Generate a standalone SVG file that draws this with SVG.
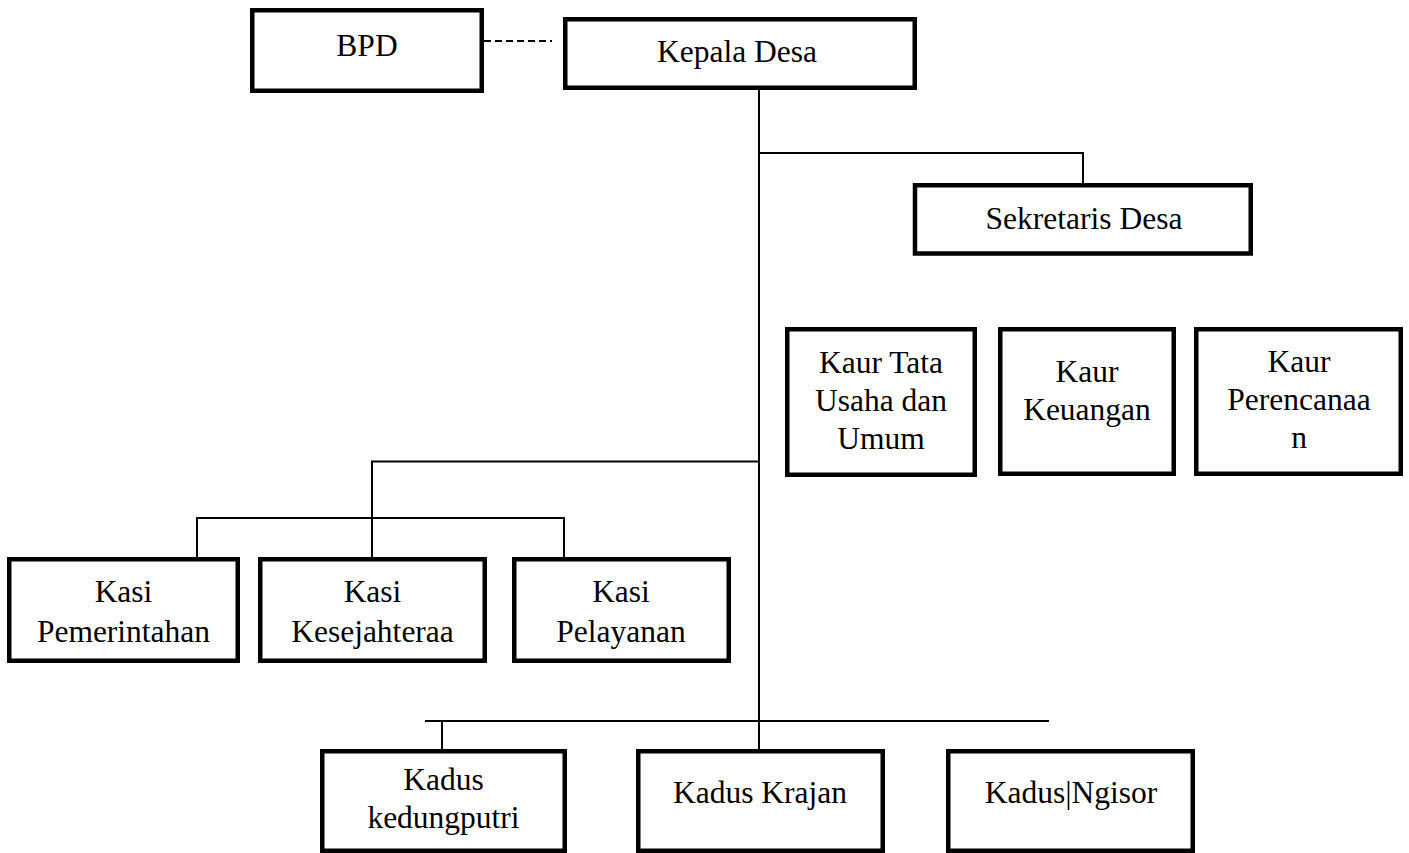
<svg xmlns="http://www.w3.org/2000/svg" width="1409" height="853" viewBox="0 0 1409 853">
<style>
.box{fill:#fff;stroke:#000;stroke-width:4.5}
.t{font-family:"Liberation Serif","Times New Roman",serif;font-size:31.5px;fill:#000;text-anchor:middle}
.ln{stroke:#000;stroke-width:2;fill:none}
.dash{stroke:#000;stroke-width:2;stroke-dasharray:7 4;fill:none}
</style>
<rect width="1409" height="853" fill="#fff"/>
<g id="connectors">
<line class="dash" x1="484" y1="41" x2="552" y2="41"/>
<line class="ln" x1="759" y1="90" x2="759" y2="750"/>
<polyline class="ln" points="759,153 1083,153 1083,184"/>
<polyline class="ln" points="759,461.5 372,461.5 372,558"/>
<polyline class="ln" points="197,558 197,518 564,518 564,558"/>
<line class="ln" x1="425" y1="721" x2="1049" y2="721"/>
<line class="ln" x1="442" y1="721" x2="442" y2="750"/>
</g>
<g id="bpd">
<rect class="box" x="252.25" y="10.25" width="229.5" height="80.5"/>
<text class="t" x="367" y="56">BPD</text>
</g>
<g id="kepala-desa">
<rect class="box" x="565.25" y="19.25" width="349.5" height="68.5"/>
<text class="t" x="737" y="62">Kepala Desa</text>
</g>
<g id="sekretaris-desa">
<rect class="box" x="915" y="185.25" width="335.75" height="68.25"/>
<text class="t" x="1084" y="229">Sekretaris Desa</text>
</g>
<g id="kaur-tata-usaha">
<rect class="box" x="787.25" y="329.25" width="187.5" height="145.5"/>
<text class="t" x="881" y="373">Kaur Tata</text>
<text class="t" x="881" y="411">Usaha dan</text>
<text class="t" x="881" y="449">Umum</text>
</g>
<g id="kaur-keuangan">
<rect class="box" x="1000.25" y="329.25" width="173.5" height="144.5"/>
<text class="t" x="1087" y="382">Kaur</text>
<text class="t" x="1087" y="420">Keuangan</text>
</g>
<g id="kaur-perencanaan">
<rect class="box" x="1196.25" y="329.25" width="204.5" height="144.5"/>
<text class="t" x="1299" y="372">Kaur</text>
<text class="t" x="1299" y="410">Perencanaa</text>
<text class="t" x="1299" y="448">n</text>
</g>
<g id="kasi-pemerintahan">
<rect class="box" x="9.25" y="559.25" width="228.5" height="101.5"/>
<text class="t" x="123.5" y="602">Kasi</text>
<text class="t" x="123.5" y="642">Pemerintahan</text>
</g>
<g id="kasi-kesejahteraa">
<rect class="box" x="260.25" y="559.25" width="224.5" height="101.5"/>
<text class="t" x="372.5" y="602">Kasi</text>
<text class="t" x="372.5" y="642">Kesejahteraa</text>
</g>
<g id="kasi-pelayanan">
<rect class="box" x="514.25" y="559.25" width="214.5" height="101.5"/>
<text class="t" x="621" y="602">Kasi</text>
<text class="t" x="621" y="642">Pelayanan</text>
</g>
<g id="kadus-kedungputri">
<rect class="box" x="322.25" y="751.25" width="242.5" height="99.5"/>
<text class="t" x="443.5" y="790">Kadus</text>
<text class="t" x="443.5" y="828">kedungputri</text>
</g>
<g id="kadus-krajan">
<rect class="box" x="638.25" y="751.25" width="244.5" height="99.5"/>
<text class="t" x="760" y="803">Kadus Krajan</text>
</g>
<g id="kadus-ngisor">
<rect class="box" x="948.25" y="751.25" width="244.5" height="99.5"/>
<text class="t" x="1071" y="803">Kadus|Ngisor</text>
</g>
</svg>
